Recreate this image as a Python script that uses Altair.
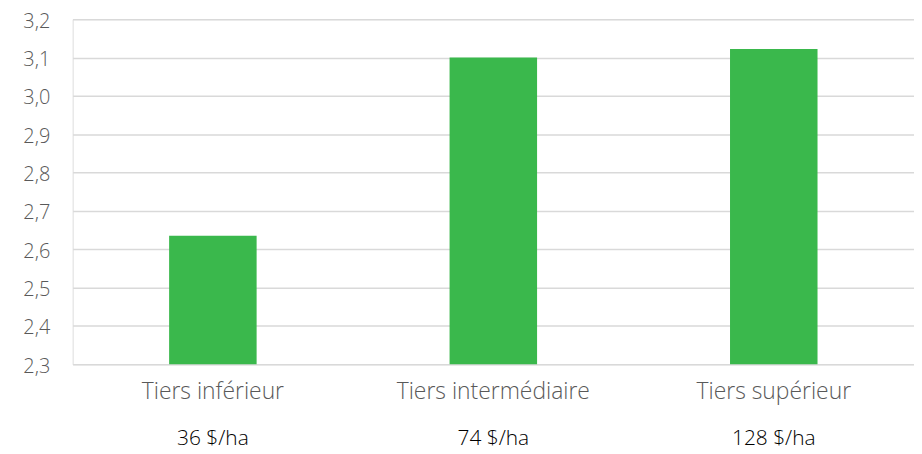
import altair as alt
import pandas as pd

categories = ["Tiers inférieur", "Tiers intermédiaire", "Tiers supérieur"]
values = [2.635, 3.10, 3.122]
costs = ["36 $/ha", "74 $/ha", "128 $/ha"]

df = pd.DataFrame({"cat": categories, "val": values, "cost": costs})

FONT = "Open Sans"
W, H = 846, 347

x = alt.X("cat:N", sort=categories, title=None,
          scale=alt.Scale(paddingInner=0.688, paddingOuter=0.344),
          axis=alt.Axis(labelAngle=0, labelFont=FONT, labelFontSize=23,
                        labelFontWeight=300, labelLimit=400,
                        labelColor="#595959", labelPadding=16, ticks=False,
                        domain=False, grid=False))

bars = alt.Chart(df).mark_bar(color="#3AB84C", clip=True).encode(
    x=x,
    y=alt.Y("val:Q", title=None,
            scale=alt.Scale(domain=[2.3, 3.2], nice=False, zero=False),
            axis=alt.Axis(values=[2.3, 2.4, 2.5, 2.6, 2.7, 2.8, 2.9, 3.0, 3.1, 3.2],
                          labelExpr="replace(format(datum.value, '.1f'), '.', ',')",
                          labelFont=FONT, labelFontSize=20, labelFontWeight=300,
                          labelColor="#595959", labelOffset=2,
                          labelPadding=23, ticks=False, domain=False,
                          gridColor="#D9D9D9", gridWidth=1.5)),
)

cost_text = alt.Chart(df).mark_text(font=FONT, fontSize=21, fontWeight=300,
                                     color="#000000",
                                     baseline="middle", align="center").encode(
    x=alt.X("cat:N", sort=categories),
    y=alt.value(H + 75),
    text="cost:N",
)

chart = alt.layer(bars, cost_text).properties(
    width=W, height=H,
    autosize=alt.AutoSizeParams(type="none"),
    padding={"left": 65, "top": 10, "right": 0, "bottom": 88},
).configure_view(stroke=None).configure(background="white")

chart.save("out.html", embed_options={"renderer": "svg", "actions": False})
